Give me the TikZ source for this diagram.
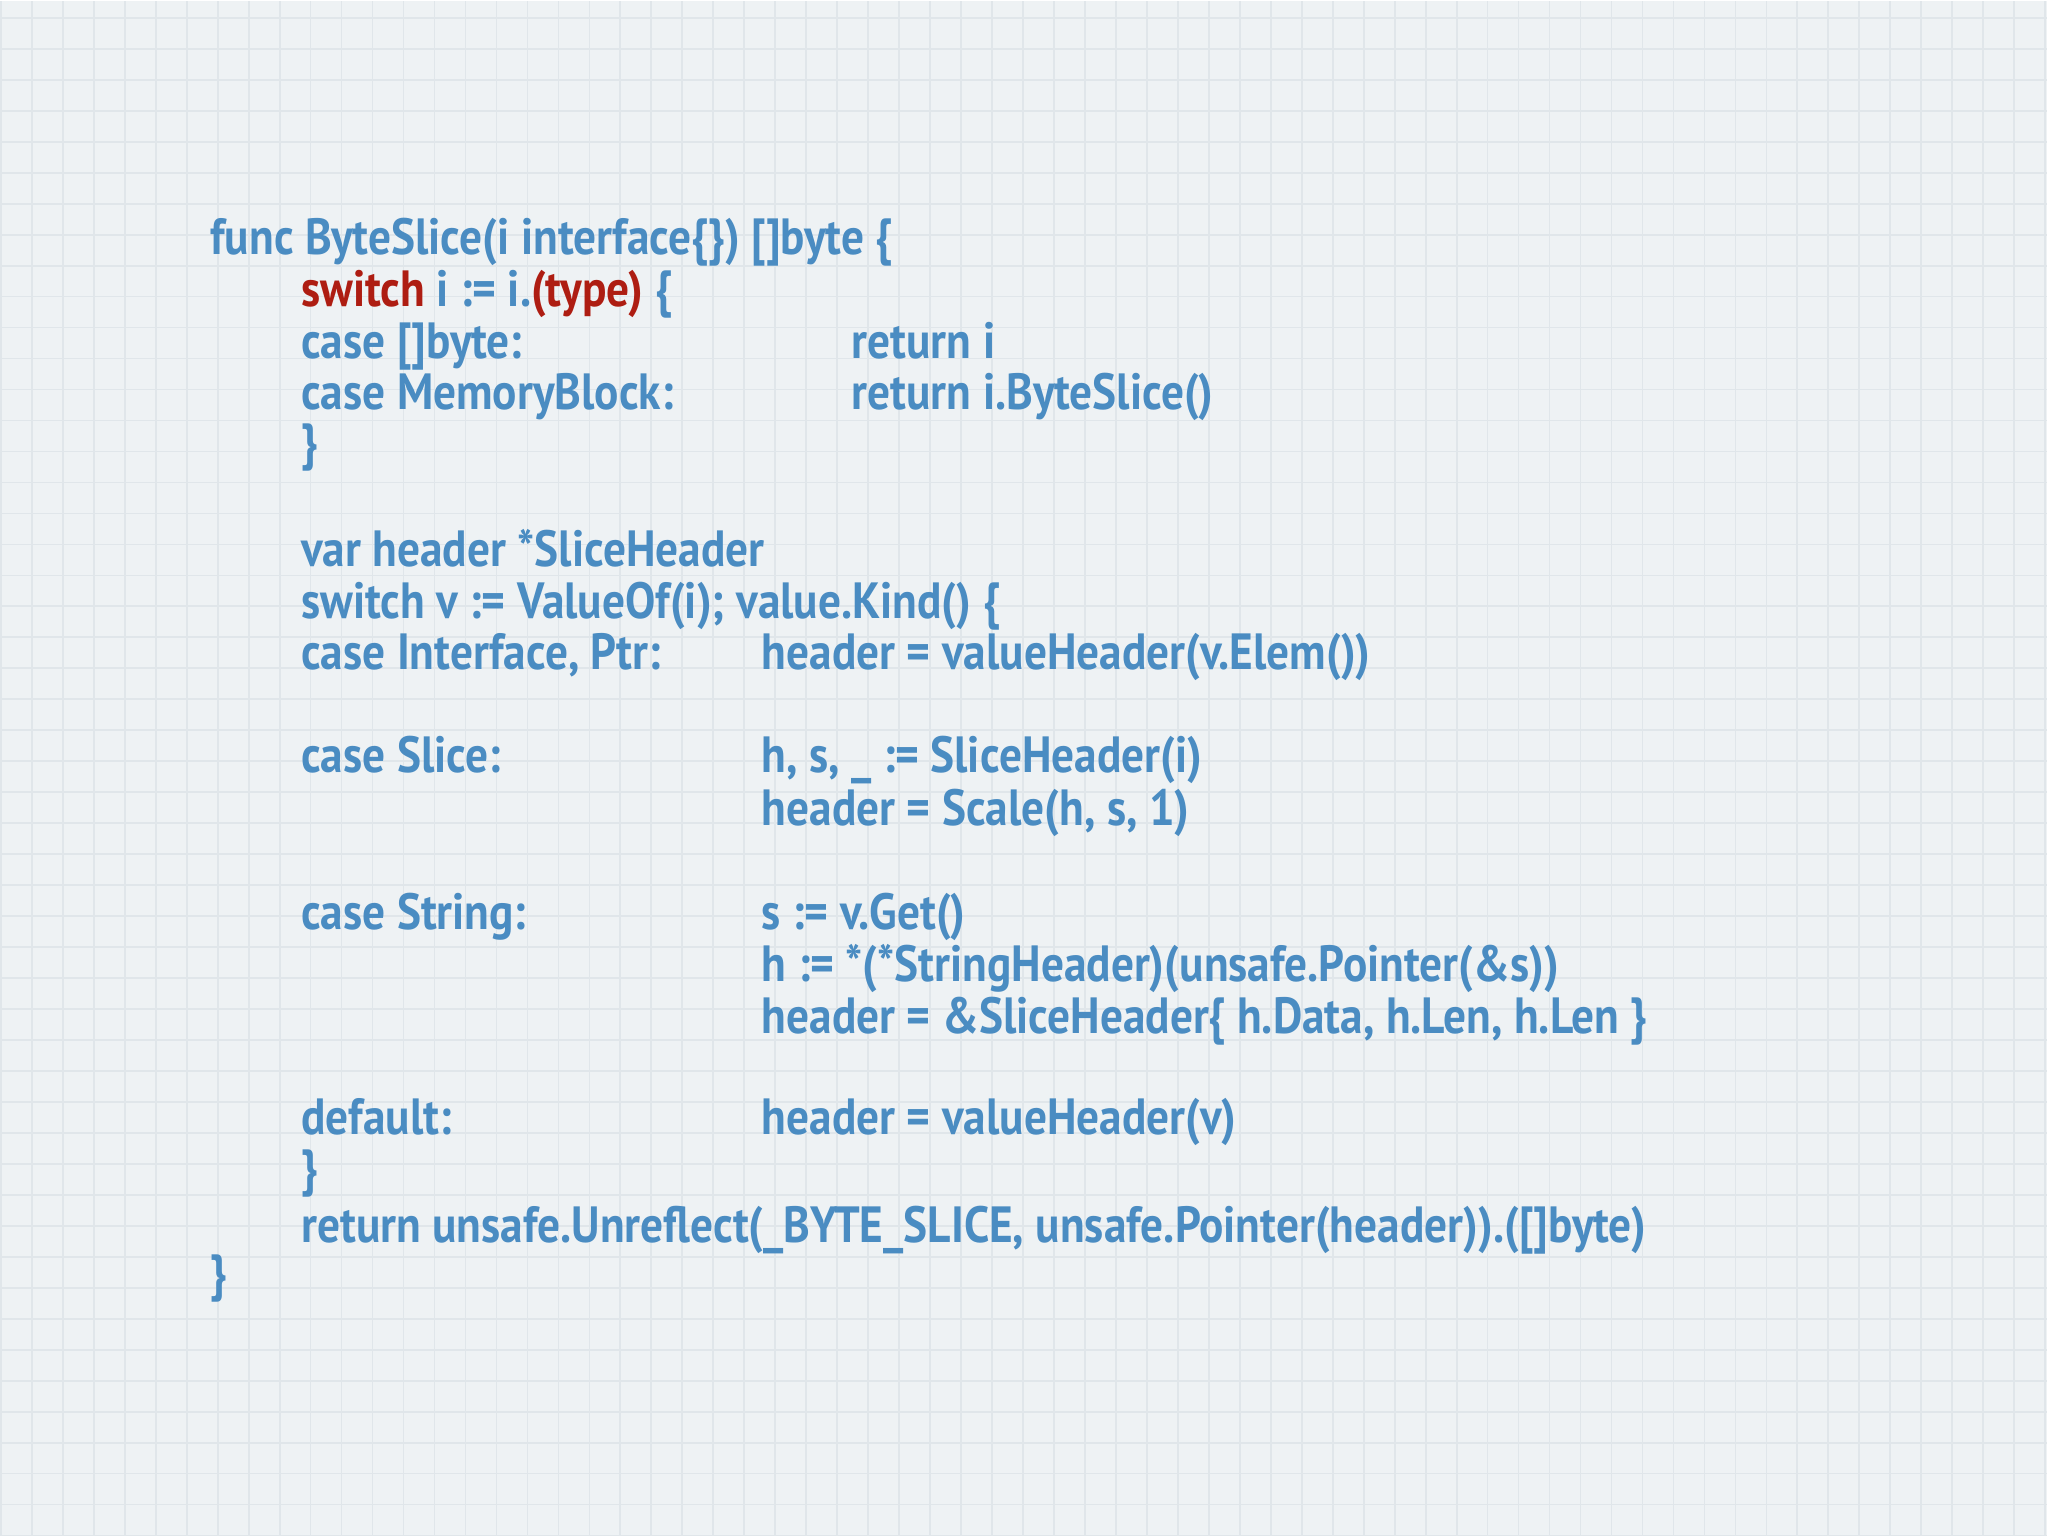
\documentclass[tikz,border=0pt]{standalone}
\usepackage{fontspec}
\setmainfont[FakeStretch=0.89]{PT Sans}
\definecolor{bg}{HTML}{EEF2F4}
\definecolor{gridc}{HTML}{E0E6EA}
\definecolor{codeblue}{HTML}{4A8CC2}
\definecolor{codered}{HTML}{AE1D12}
\tikzset{code/.style={anchor=base west,inner sep=0pt,text=codeblue,font=\fontsize{14.5}{16}\selectfont\bfseries}}
\begin{document}
\begin{tikzpicture}[x=1cm,y=1cm]
\fill[bg] (0,0) rectangle (20.48,15.36);
\draw[gridc,line width=0.5pt,step=0.31] (0,0) grid (20.48,15.36);
\useasboundingbox (0,0) rectangle (20.48,15.36);
\def\cA{2.09}\def\cB{3.00}\def\cC{8.51}\def\cD{7.61}
\newcommand{\yy}[1]{15.36-#1/100-0.15}
\node[code] (l1) at (\cA,{\yy{239}}) {func ByteSlice(i interface\{\}) []byte \{};
\node[code] (l2) at (\cB,{\yy{291}}) {\textcolor{codered}{switch} i := i.\textcolor{codered}{(type)} \{};
\node[code] (l3) at (\cB,{\yy{343}}) {case []byte:};
\node[code] (l3b) at (\cC,{\yy{343}}) {return i};
\node[code] (l4) at (\cB,{\yy{394}}) {case MemoryBlock:};
\node[code] (l4b) at (\cC,{\yy{394}}) {return i.ByteSlice()};
\node[code] (l5) at (\cB,{\yy{444}}) {\}};
\node[code] (l6) at (\cB,{\yy{551}}) {var header *SliceHeader};
\node[code] (l7) at (\cB,{\yy{603}}) {switch v := ValueOf(i); value.Kind() \{};
\node[code] (l8) at (\cB,{\yy{654}}) {case Interface, Ptr:};
\node[code] (l8b) at (\cD,{\yy{654}}) {header = valueHeader(v.Elem())};
\node[code] (l9) at (\cB,{\yy{757}}) {case Slice:};
\node[code] (l9b) at (\cD,{\yy{757}}) {h, s, \_ := SliceHeader(i)};
\node[code] (l10) at (\cD,{\yy{810}}) {header = Scale(h, s, 1)};
\node[code] (l11) at (\cB,{\yy{914}}) {case String:};
\node[code] (l11b) at (\cD,{\yy{914}}) {s := v.Get()};
\node[code] (l12) at (\cD,{\yy{966}}) {h := *(*StringHeader)(unsafe.Pointer(\&s))};
\node[code] (l13) at (\cD,{\yy{1019}}) {header = \&SliceHeader\{ h.Data, h.Len, h.Len \}};
\node[code] (l14) at (\cB,{\yy{1120}}) {default:};
\node[code] (l14b) at (\cD,{\yy{1120}}) {header = valueHeader(v)};
\node[code] (l15) at (\cB,{\yy{1171}}) {\}};
\node[code] (l16) at (\cB,{\yy{1228}}) {return unsafe.Unreflect(\_BYTE\_SLICE, unsafe.Pointer(header)).([]byte)};
\node[code] (l17) at (\cA,{\yy{1276}}) {\}};
\end{tikzpicture}
\end{document}
